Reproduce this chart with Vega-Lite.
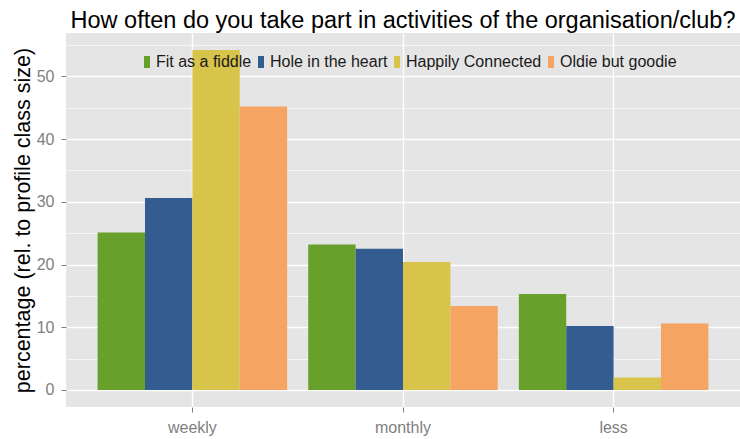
{
  "$schema": "https://vega.github.io/schema/vega-lite/v6.json",
  "width": 674,
  "height": 374,
  "autosize": "none",
  "padding": {"left": 66, "top": 33, "right": 0, "bottom": 32},
  "background": "white",
  "config": {
    "font": "Liberation Sans",
    "view": {"fill": "#e5e5e5", "stroke": null}
  },
  "title": {
    "text": "How often do you take part in activities of the organisation/club?",
    "fontSize": 23.5,
    "fontWeight": "normal",
    "color": "#000000",
    "anchor": "middle",
    "offset": 1
  },
  "data": {
    "values": [
      {"freq": "weekly", "profile": "Fit as a fiddle", "value": 25.1},
      {"freq": "weekly", "profile": "Hole in the heart", "value": 30.6},
      {"freq": "weekly", "profile": "Happily Connected", "value": 54.2},
      {"freq": "weekly", "profile": "Oldie but goodie", "value": 45.2},
      {"freq": "monthly", "profile": "Fit as a fiddle", "value": 23.2},
      {"freq": "monthly", "profile": "Hole in the heart", "value": 22.5},
      {"freq": "monthly", "profile": "Happily Connected", "value": 20.4},
      {"freq": "monthly", "profile": "Oldie but goodie", "value": 13.4},
      {"freq": "less", "profile": "Fit as a fiddle", "value": 15.3},
      {"freq": "less", "profile": "Hole in the heart", "value": 10.2},
      {"freq": "less", "profile": "Happily Connected", "value": 2.0},
      {"freq": "less", "profile": "Oldie but goodie", "value": 10.6}
    ]
  },
  "mark": {"type": "bar"},
  "encoding": {
    "x": {
      "field": "freq",
      "type": "nominal",
      "sort": ["weekly", "monthly", "less"],
      "scale": {"paddingInner": 0.1, "paddingOuter": 0.15},
      "axis": {
        "title": null,
        "labelAngle": 0,
        "labelFontSize": 16,
        "labelColor": "#7f7f7f",
        "labelPadding": 7,
        "tickColor": "#7f7f7f",
        "tickSize": 5,
        "tickWidth": 1,
        "domain": false,
        "grid": true,
        "gridColor": "#ffffff",
        "gridWidth": 1.3,
        "bandPosition": 0.5
      }
    },
    "xOffset": {
      "field": "profile",
      "type": "nominal",
      "sort": ["Fit as a fiddle", "Hole in the heart", "Happily Connected", "Oldie but goodie"],
      "scale": {"paddingInner": 0, "paddingOuter": 0}
    },
    "y": {
      "field": "value",
      "type": "quantitative",
      "scale": {"domain": [-2.71, 56.9], "nice": false, "zero": false},
      "axis": {
        "title": "percentage (rel. to profile class size)",
        "titleFontSize": 21.5,
        "titleFontWeight": "normal",
        "titleColor": "#000000",
        "titlePadding": 2,
        "values": [0, 5, 10, 15, 20, 25, 30, 35, 40, 45, 50, 55],
        "labelExpr": "datum.value % 10 === 0 ? datum.label : ''",
        "labelFontSize": 16,
        "labelColor": "#7f7f7f",
        "labelPadding": 7,
        "tickColor": "#7f7f7f",
        "tickSize": 5,
        "tickOpacity": {"condition": {"test": "datum.value % 10 === 0", "value": 1}, "value": 0},
        "domain": false,
        "grid": true,
        "gridColor": "#ffffff",
        "gridWidth": {"condition": {"test": "datum.value % 10 === 0", "value": 1.4}, "value": 0.6}
      }
    },
    "y2": {"datum": 0},
    "color": {
      "field": "profile",
      "type": "nominal",
      "sort": ["Fit as a fiddle", "Hole in the heart", "Happily Connected", "Oldie but goodie"],
      "scale": {"range": ["#67a02b", "#335c91", "#d8c44a", "#f5a462"]},
      "legend": {
        "title": null,
        "orient": "none",
        "direction": "horizontal",
        "legendX": 73,
        "legendY": 21,
        "symbolType": "M-0.5,-1H0.5V1H-0.5Z",
        "symbolSize": 144,
        "symbolStrokeWidth": 0,
        "labelFontSize": 16,
        "labelColor": "#1a1a1a",
        "labelOffset": 1,
        "columnPadding": 1
      }
    }
  }
}
